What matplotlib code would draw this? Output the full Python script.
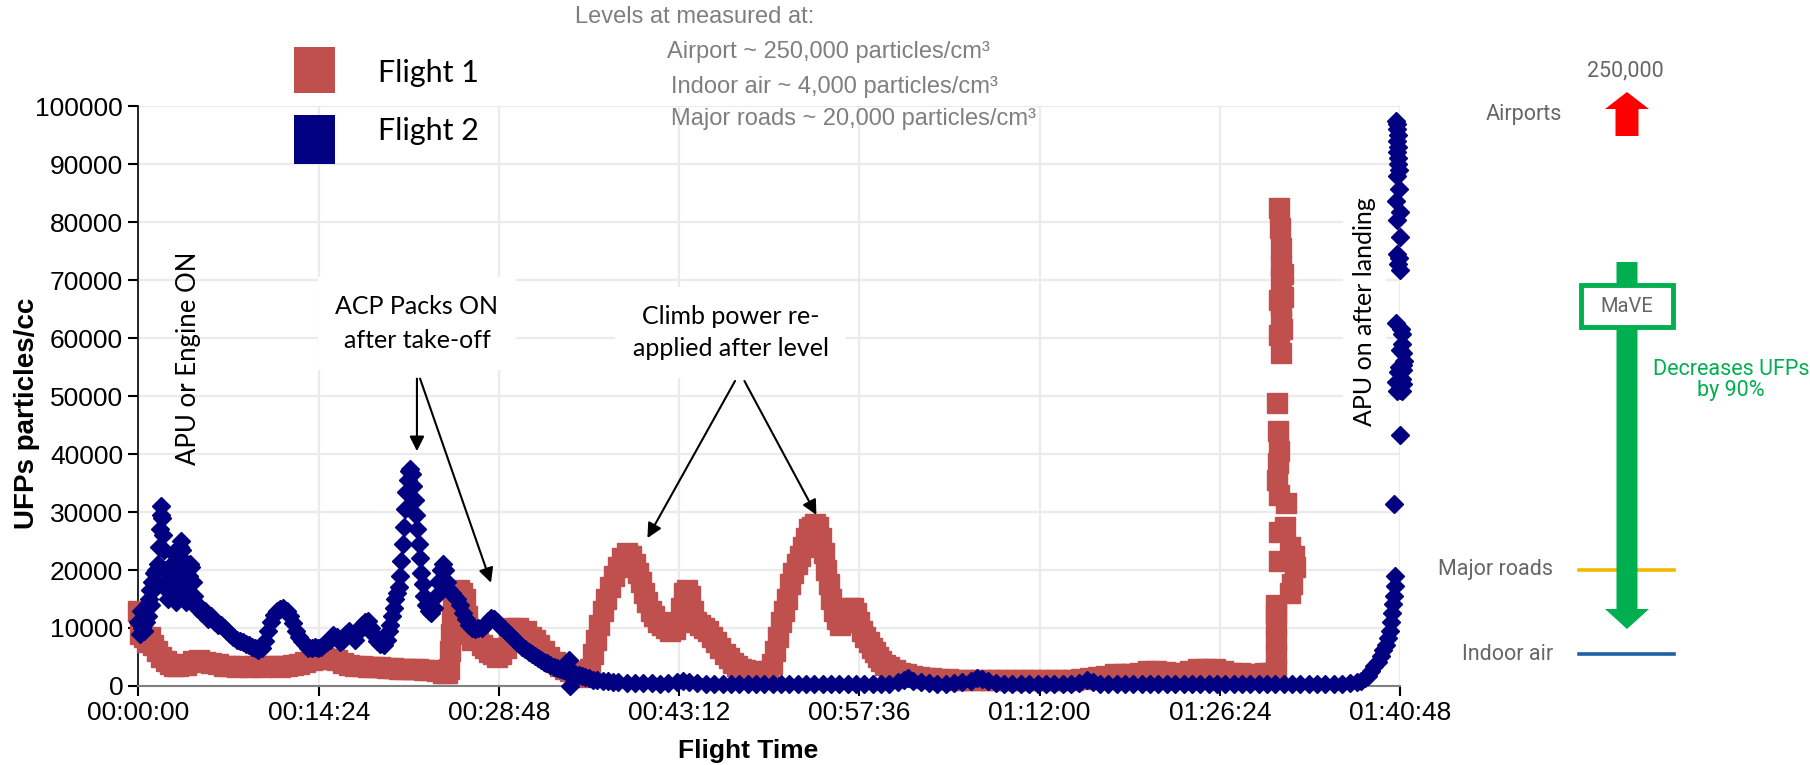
import matplotlib
matplotlib.use("Agg")
import matplotlib.pyplot as plt
from matplotlib.patches import FancyArrow, Rectangle
from matplotlib.ticker import FuncFormatter

# Flight 1: seconds since start, UFP count (particles/cc)
f1_time = [0, 8, 15, 25, 40, 55, 70, 90, 110, 130, 150, 170, 190, 210, 230, 260, 290, 320, 350, 380,
           410, 440, 470, 500, 530, 560, 590, 620, 650, 680, 710, 740, 770, 800, 830, 860, 890, 920, 950, 980,
           1010, 1040, 1070, 1100, 1130, 1160, 1190, 1220, 1250, 1280, 1310, 1340, 1370, 1400, 1430, 1460,
           1480, 1490, 1495, 1500, 1505, 1510, 1520, 1535, 1550, 1565, 1575, 1585, 1600, 1615, 1630, 1645,
           1660, 1680, 1700, 1720, 1740, 1760, 1775, 1790, 1805, 1820, 1840, 1860, 1880, 1900, 1920, 1945,
           1970, 1995, 2020, 2045, 2070, 2100, 2125, 2150, 2165, 2180, 2195, 2210, 2225, 2240, 2260, 2280,
           2300, 2320, 2340, 2360, 2380, 2395, 2410, 2425, 2440, 2455, 2470, 2490, 2510, 2530, 2550, 2570,
           2590, 2600, 2615, 2630, 2645, 2660, 2675, 2690, 2710, 2730, 2750, 2770, 2790, 2810, 2830, 2850,
           2870, 2890, 2910, 2940, 2970, 3000, 3020, 3035, 3050, 3065, 3080, 3095, 3110, 3125, 3140, 3155,
           3170, 3185, 3200, 3215, 3230, 3245, 3260, 3272, 3285, 3298, 3310, 3322, 3335, 3350, 3365, 3380,
           3395, 3410, 3425, 3440, 3455, 3470, 3485, 3500, 3515, 3530, 3545, 3560, 3580, 3600, 3625, 3650,
           3680, 3710, 3740, 3770, 3800, 3840, 3880, 3920, 3960, 4000, 4040, 4080, 4120, 4160, 4200, 4240,
           4280, 4320, 4360, 4400, 4440, 4480, 4520, 4560, 4600, 4640, 4680, 4720, 4760, 4800, 4840, 4880,
           4920, 4960, 5000, 5040, 5080, 5120, 5160, 5200, 5240, 5280, 5320, 5360, 5400, 5430,
           5455, 5455, 5455, 5455, 5455, 5455,
           5468, 5472, 5475, 5478, 5475, 5475, 5478, 5470, 5478, 5485, 5485, 5480, 5470,
           5460, 5463, 5466, 5463, 5460, 5470,
           5500, 5495, 5470, 5520, 5540, 5545, 5530, 5520, 5470]
f1_ufp = [13000, 9000, 11500, 8500, 7500, 8500, 7000, 6000, 5000, 4300, 3800, 3500, 3500, 3800, 3600, 4300, 4500, 4200, 4000, 3800,
          3500, 3400, 3300, 3400, 3300, 3400, 3300, 3400, 3500, 3300, 3400, 3600, 3800, 4200, 4500, 4700, 4800, 4700, 4400, 4000,
          3700, 3500, 3400, 3300, 3300, 3200, 3100, 3100, 3000, 3000, 3000, 2900, 2800, 2700, 2500, 2300,
          2300, 3000, 6000, 9000, 12000, 14500, 16000, 16500, 16000, 15000, 12000, 9500, 8000, 9500, 8500, 7000,
          6500, 5800, 5500, 5000, 5500, 6500, 9000, 10000, 9500, 10000, 9000, 9500, 8500, 8000, 7000, 6000,
          5000, 4200, 3500, 3000, 2500, 2000, 1600, 1800, 3000, 5500, 8000, 10500, 13000, 15000, 17000, 19000,
          20500, 22000, 23000, 22500, 21000, 19500, 18000, 16000, 14500, 13000, 12000, 11000, 10500, 10000, 9500, 9800,
          11000, 13500, 16000, 16500, 15500, 13000, 11000, 10500, 10000, 9500, 8500, 7500, 6500, 5500, 4800, 4000,
          3400, 3000, 2700, 2500, 2400, 2400, 2600, 3800, 6000, 8500, 11000, 13000, 15000, 17500, 19500, 21000,
          22500, 24000, 25500, 27000, 27500, 28000, 27500, 25500, 23000, 20000, 17500, 15000, 13000, 11500, 10500, 11000,
          12500, 13500, 13500, 12500, 11000, 9500, 8500, 7500, 6500, 5800, 5000, 4300, 3700, 3200, 2700, 2300,
          2000, 1700, 1500, 1400, 1300, 1200, 1200, 1100, 1100, 1100, 1000, 1000, 1000, 1000, 1000, 1000,
          1000, 1100, 1100, 1100, 1100, 1100, 1200, 1300, 1500, 1800, 2000, 2000, 2100, 2200, 2500, 2500,
          2400, 2300, 2300, 2500, 2900, 3000, 2900, 2500, 2300, 2200, 2100, 2100, 2200, 2300,
          3000, 5500, 8000, 10500, 12500, 14000,
          82400, 79000, 75500, 72500, 70000, 65500, 63000, 60500, 57500, 71000, 67000, 61500, 66500,
          48800, 44000, 40500, 38500, 35500, 33000,
          31500, 27500, 26500, 24000, 22500, 20500, 17500, 16000, 21500]

# Flight 2
f2_time = [0, 5, 10, 15, 20, 25, 30, 35, 40, 45, 50, 55, 60, 65, 70, 75, 80, 85, 90, 94,
           98, 102, 106, 110, 114, 118, 122, 126, 130, 135, 140, 145, 150, 155, 160, 165, 170, 175, 180, 185,
           190, 195, 200, 205, 210, 215, 220, 225, 230, 236, 242, 248, 254, 260, 266, 272, 280, 292, 305, 320,
           335, 350, 365, 380, 395, 410, 425, 440, 455, 470, 485, 500, 515, 530, 545, 560, 575, 590, 605, 620,
           635, 650, 665, 680, 695, 710, 725, 740, 755, 770, 785, 800, 815, 830, 845, 860, 875, 890, 905, 920,
           935, 950, 965, 980, 995, 1010, 1025, 1040, 1055, 1070, 1085, 1100, 1115, 1130, 1145, 1160, 1175, 1190, 1200, 1208,
           1216, 1224, 1232, 1240, 1248, 1254, 1260, 1266, 1272, 1278, 1284, 1290, 1297, 1304, 1311, 1318, 1325, 1331, 1337, 1343,
           1349, 1355, 1362, 1370, 1380, 1392, 1404, 1416, 1428, 1438, 1448, 1458, 1468, 1478, 1490, 1502, 1515, 1528, 1540, 1555,
           1570, 1585, 1600, 1615, 1630, 1645, 1660, 1675, 1690, 1705, 1720, 1735, 1750, 1765, 1780, 1795, 1810, 1825, 1840, 1855,
           1870, 1885, 1900, 1915, 1930, 1945, 1960, 1975, 1990, 2005, 2020, 2035, 2050, 2064, 2068, 2080, 2095, 2110, 2125, 2140,
           2160, 2180, 2200, 2225, 2250, 2275, 2300, 2340, 2380, 2420, 2460, 2500, 2540, 2580, 2610, 2640, 2680, 2720, 2760, 2800,
           2840, 2880, 2920, 2960, 3000, 3040, 3080, 3120, 3160, 3200, 3240, 3280, 3320, 3360, 3400, 3440, 3480, 3520, 3560, 3600,
           3640, 3670, 3690, 3715, 3750, 3790, 3830, 3870, 3910, 3950, 3990, 4020, 4045, 4075, 4110, 4150, 4190, 4230, 4270, 4310,
           4350, 4390, 4430, 4470, 4510, 4545, 4575, 4610, 4650, 4690, 4730, 4770, 4810, 4850, 4890, 4930, 4970, 5010, 5050, 5090,
           5130, 5170, 5210, 5250, 5290, 5330, 5370, 5410, 5450, 5490, 5530, 5570, 5610, 5650, 5690, 5730, 5770, 5810, 5840, 5860,
           5880, 5895, 5910, 5925, 5940, 5955, 5968, 5980, 5990, 5998, 6005, 6010, 6015, 6020, 6022, 6025, 6018, 6048,
           6030, 6035, 6032, 6035, 6038, 6034, 6044, 6030, 6048, 6034, 6048, 6034, 6044, 6040, 6050,
           6032, 6038, 6040, 6036, 6042,
           6028, 6056, 6048, 6062, 6040, 6030, 6062, 6034, 6056, 6052, 6058, 6062, 6066, 6064, 6058, 6050, 6044]
f2_ufp = [11000, 9000, 13000, 10000, 12500, 9500, 13500, 11000, 14000, 12000, 15000, 16500, 14000, 18000, 16500, 19500, 17000, 20000, 18000, 21000,
          24000, 27000, 29500, 31000, 29000, 26000, 23500, 20000, 18000, 16500, 15000, 17500, 19500, 16000, 21000, 23000, 19000, 16000, 14500, 17500,
          20000, 22500, 24000, 25000, 23500, 21000, 18000, 16000, 14500, 16000, 19000, 21000, 20500, 18000, 15500, 14500, 13500, 13500, 12500, 13000,
          11500, 12000, 11000, 10500, 10500, 10000, 9500, 9000, 8500, 8000, 7800, 7500, 7200, 7000, 6800, 6500, 6200, 6500, 7800, 9500,
          11000, 12300, 13000, 13300, 13500, 13000, 12000, 10800, 9500, 8500, 7800, 7200, 6600, 6500, 6800, 6500, 6800, 7200, 7600, 8000,
          8800, 8500, 7500, 8000, 9000, 9500, 8600, 8000, 9500, 10500, 11000, 11200, 10000, 8800, 7800, 7200, 7000, 8000, 9500, 10500,
          12000, 13500, 15000, 16000, 17000, 19000, 21500, 24500, 27500, 30500, 33500, 35500, 37000, 37500, 36500, 34500, 32000, 29500, 27000, 24500,
          22000, 19500, 17500, 15500, 14000, 13000, 12500, 13500, 15500, 18000, 20000, 21000, 20000, 18000, 16500, 16000, 15500, 15000, 14000, 12500,
          11500, 10500, 10000, 9800, 10000, 10000, 10500, 11200, 11800, 11500, 11000, 10300, 9800, 9300, 8800, 8300, 7800, 7300, 6800, 6300,
          5900, 5500, 5100, 4800, 4500, 4200, 3900, 3600, 3300, 3100, 2900, 2700, 2500, 4400, 0, 2300, 2100, 1900, 1700, 1500,
          1300, 1100, 1000, 900, 800, 700, 600, 550, 500, 450, 450, 400, 500, 750, 800, 650, 450, 400, 350, 350,
          300, 300, 300, 300, 300, 300, 300, 300, 300, 300, 300, 300, 300, 300, 300, 300, 300, 350, 350, 400,
          700, 1100, 1300, 900, 600, 450, 400, 400, 450, 600, 900, 1300, 1200, 800, 500, 400, 350, 300, 300, 300,
          300, 300, 300, 350, 500, 1000, 700, 400, 300, 300, 300, 300, 300, 300, 300, 300, 300, 300, 300, 300,
          300, 300, 300, 300, 300, 300, 300, 300, 300, 300, 300, 300, 300, 300, 300, 300, 350, 500, 700, 900,
          1300, 1800, 2500, 3400, 4200, 5200, 6200, 7000, 8300, 9500, 11000, 12500, 14200, 15500, 17200, 18900, 31400, 43200,
          97500, 96000, 94000, 92000, 91000, 88000, 85700, 83700, 81700, 80400, 77400, 74500, 73800, 72800, 71800,
          97000, 95000, 93000, 90000, 89000,
          62600, 60700, 58000, 55400, 54100, 52400, 52100, 50800, 50800, 61500, 59000, 57500, 56000, 54500, 53000, 51000, 55000]

x_ticks = list(range(0, 6049, 864))
y_ticks = list(range(0, 100001, 10000))

CALIBRI = ['Lato', 'DejaVu Sans']
ARIAL = 'Liberation Sans'
GREY = '#7f7f7f'
DARKGREY = '#666666'
GREEN = '#00b050'
RED = '#c0504d'
NAVY = '#000080'


def hms(x, pos):
    s = int(round(x))
    return '{:02d}:{:02d}:{:02d}'.format(s // 3600, s % 3600 // 60, s % 60)


fig = plt.figure(figsize=(18.1, 7.65), dpi=100)
ax = fig.add_axes([0.0765, 0.1033, 0.697, 0.758])

ax.plot(f1_time, f1_ufp, ls='none', marker='s', ms=14.5, color=RED, clip_on=False, zorder=3)
ax.plot(f2_time, f2_ufp, ls='none', marker='D', ms=9, color=NAVY, clip_on=False, zorder=4)

ax.set_xlim(0, 6048)
ax.set_ylim(0, 100000)
ax.set_xticks(x_ticks)
ax.set_yticks(y_ticks)
ax.xaxis.set_major_formatter(FuncFormatter(hms))
ax.grid(True, color='#ebebeb', lw=1.6)
ax.set_axisbelow(True)

for side in ['top', 'right']:
    ax.spines[side].set_visible(False)
ax.spines['left'].set_color('black')
ax.spines['left'].set_linewidth(1.2)
ax.spines['bottom'].set_color('#808080')
ax.spines['bottom'].set_linewidth(1.5)
ax.tick_params(direction='out', length=7, width=1.5, color='black', labelsize=19, pad=4)
for lab in ax.get_xticklabels() + ax.get_yticklabels():
    lab.set_family(ARIAL)

ax.set_ylabel('UFPs particles/cc', fontweight='bold', fontsize=20, family=ARIAL)
ax.yaxis.set_label_coords(-0.088, 0.47)
ax.yaxis.label.set_va('center')
ax.set_xlabel('Flight Time', fontweight='bold', fontsize=19, family=ARIAL)
ax.xaxis.set_label_coords(0.483, -0.112)
ax.xaxis.label.set_va('center')

# annotations
box = dict(boxstyle='square,pad=0.7', fc='white', ec='none')
ax.text(242, 56500, 'APU or Engine ON', rotation=90, ha='center', va='center', fontsize=18.5, family=CALIBRI)
ax.text(1335, 62500, 'ACP Packs ON\nafter take-off', ha='center', va='center', fontsize=18,
        family=CALIBRI, linespacing=1.6, bbox=box, zorder=5)
ax.text(2840, 61000, 'Climb power re-\napplied after level', ha='center', va='center', fontsize=18,
        family=CALIBRI, linespacing=1.5, bbox=box, zorder=5)
ax.text(5880, 64500, 'APU on after landing', rotation=90, ha='center', va='center', fontsize=18,
        family=CALIBRI, bbox=dict(boxstyle='square,pad=0.4', fc='white', ec='none'), zorder=5)

arrow = dict(arrowstyle='-|>', color='black', lw=1.5, mutation_scale=22, shrinkA=0, shrinkB=0)
ax.annotate('', xy=(1335, 40500), xytext=(1335, 53000), arrowprops=arrow, zorder=6)
ax.annotate('', xy=(1690, 17800), xytext=(1350, 53000), arrowprops=arrow, zorder=6)
ax.annotate('', xy=(2440, 25500), xytext=(2860, 52600), arrowprops=arrow, zorder=6)
ax.annotate('', xy=(3250, 29500), xytext=(2905, 52600), arrowprops=arrow, zorder=6)

# overlay in pixel units: legend swatches, notes on top, reference panel on the right
deco = fig.add_axes([0, 0, 1, 1])
deco.set_xlim(0, 1810)
deco.set_ylim(765, 0)
deco.axis('off')

deco.add_patch(Rectangle((294, 47), 41, 46, fc=RED, ec='none'))
deco.add_patch(Rectangle((294, 115), 41, 49, fc=NAVY, ec='none'))
deco.text(378, 73, 'Flight 1', ha='left', va='center', fontsize=22, family=CALIBRI)
deco.text(378, 131, 'Flight 2', ha='left', va='center', fontsize=22, family=CALIBRI)

notes = dict(va='center', fontsize=17, color=GREY, family=ARIAL)
deco.text(695, 17, 'Levels at measured at:', ha='center', **notes)
deco.text(667, 52, 'Airport ~ 250,000 particles/cm³', ha='left', **notes)
deco.text(671, 87, 'Indoor air ~ 4,000 particles/cm³', ha='left', **notes)
deco.text(671, 119, 'Major roads ~ 20,000 particles/cm³', ha='left', **notes)

deco.text(1625, 71, '250,000', ha='center', va='center', fontsize=15.5, color=DARKGREY, family='Roboto')
deco.text(1562, 114, 'Airports', ha='right', va='center', fontsize=15.5, color=DARKGREY, family='Roboto')
deco.add_patch(FancyArrow(1627, 136, 0, -44, width=23, head_width=44, head_length=17,
                          length_includes_head=True, color='#ff0000', lw=0))

deco.plot([1579, 1674], [570, 570], color='#f2b800', lw=2.6, zorder=1)
deco.plot([1579, 1674], [654, 654], color='#1f5fa6', lw=2.6, zorder=1)
deco.text(1553, 570, 'Major roads', ha='right', va='center', fontsize=15.5, color=DARKGREY, family='Roboto')
deco.text(1553, 654, 'Indoor air', ha='right', va='center', fontsize=15.5, color=DARKGREY, family='Roboto')

deco.add_patch(FancyArrow(1627, 262, 0, 367, width=21, head_width=44, head_length=20,
                          length_includes_head=True, color=GREEN, lw=0, zorder=2))
deco.add_patch(Rectangle((1581, 285), 92, 42, fc='white', ec=GREEN, lw=3.5, zorder=3))
deco.text(1627, 306, 'MaVE', ha='center', va='center', fontsize=14.5, color=DARKGREY, family='Roboto', zorder=4)
deco.text(1731, 380, 'Decreases UFPs\nby 90%', ha='center', va='center', fontsize=15.5, color=GREEN,
          family='Roboto', linespacing=1.05)

fig.savefig('out.png', dpi=100)
